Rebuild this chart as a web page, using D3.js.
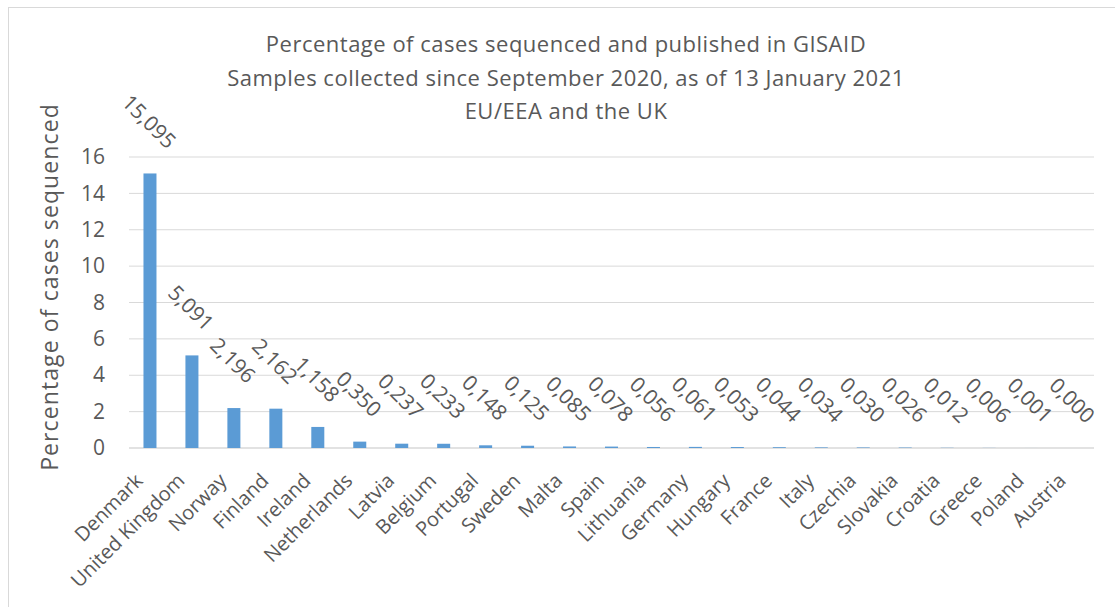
<!DOCTYPE html>
<html>
<head>
<meta charset="utf-8">
<script src="https://cdn.jsdelivr.net/npm/d3@7"></script>
<style>
  body { margin: 0; background: #fff; }
  svg text { font-family: "Open Sans", sans-serif; fill: #595959; }
</style>
</head>
<body>
<svg id="chart" width="1115" height="607"></svg>
<script>
const countries = ["Denmark", "United Kingdom", "Norway", "Finland", "Ireland", "Netherlands", "Latvia",
  "Belgium", "Portugal", "Sweden", "Malta", "Spain", "Lithuania", "Germany", "Hungary", "France",
  "Italy", "Czechia", "Slovakia", "Croatia", "Greece", "Poland", "Austria"];
const percentSequenced = [15.095, 5.091, 2.196, 2.162, 1.158, 0.350, 0.237, 0.233, 0.148, 0.125, 0.085,
  0.078, 0.056, 0.061, 0.053, 0.044, 0.034, 0.030, 0.026, 0.012, 0.006, 0.001, 0.000];
const yTicks = [0, 2, 4, 6, 8, 10, 12, 14, 16];
const titleLines = ["Percentage of cases sequenced and published in GISAID",
  "Samples collected since September 2020, as of 13 January 2021",
  "EU/EEA and the UK"];

const svg = d3.select("#chart");
const margin = {top: 157, right: 21, bottom: 159, left: 129};
const width = +svg.attr("width") - margin.left - margin.right;
const height = +svg.attr("height") - margin.top - margin.bottom;

// outer chart border
svg.append("rect")
  .attr("x", 8.5).attr("y", 7.5)
  .attr("width", 1120).attr("height", 620)
  .attr("fill", "none").attr("stroke", "#d9d9d9");

const g = svg.append("g").attr("transform", `translate(${margin.left},${margin.top})`);

const x = d3.scaleBand().domain(countries).range([0, width]).paddingInner(0.69).paddingOuter(0.345);
const y = d3.scaleLinear().domain([0, 16]).range([height, 0]);

// gridlines
g.append("g")
  .selectAll("line")
  .data(yTicks)
  .join("line")
  .attr("x1", 0).attr("x2", width)
  .attr("y1", d => y(d)).attr("y2", d => y(d))
  .attr("stroke", "#d9d9d9")
  .attr("stroke-width", d => d === 0 ? 1.5 : 1);

// y axis labels
const yAxis = g.append("g").call(d3.axisLeft(y).tickValues(yTicks).tickSize(0).tickPadding(24));
yAxis.select(".domain").remove();
yAxis.selectAll("text").attr("font-size", 21).style("font-family", "Open Sans, sans-serif").attr("fill", "#595959");

// bars
g.selectAll(".bar")
  .data(countries)
  .join("rect")
  .attr("class", "bar")
  .attr("x", d => x(d))
  .attr("width", x.bandwidth())
  .attr("y", (d, i) => y(percentSequenced[i]))
  .attr("height", (d, i) => height - y(percentSequenced[i]))
  .attr("fill", "#5b9bd5");

// value labels, rotated 45 degrees, sitting above each bar
const fmt = v => v.toFixed(3).replace(".", ",");
g.selectAll(".vlabel")
  .data(countries)
  .join("text")
  .attr("class", "vlabel")
  .attr("font-size", 21)
  .attr("text-anchor", "middle")
  .attr("dy", "0.35em")
  .text((d, i) => fmt(percentSequenced[i]))
  .attr("transform", function(d, i) {
    const len = this.getComputedTextLength();
    const half = (len + 16) * 0.7071 / 2;
    const cx = x(d) + x.bandwidth() / 2 - 1;
    const cy = y(percentSequenced[i]) - 23 - half;
    return `translate(${cx},${cy}) rotate(45)`;
  });

// x axis labels
const xAxis = g.append("g").attr("transform", `translate(0,${height})`)
  .call(d3.axisBottom(x).tickSize(0).tickPadding(0));
xAxis.select(".domain").remove();
xAxis.selectAll("text")
  .attr("font-size", 20)
  .style("font-family", "Open Sans, sans-serif")
  .attr("fill", "#595959")
  .style("text-anchor", "end")
  .attr("dy", 0)
  .attr("transform", "translate(-6,34) rotate(-45)");

// y axis title
svg.append("text")
  .attr("transform", "translate(58,287) rotate(-90)")
  .attr("text-anchor", "middle")
  .attr("font-size", 23)
  .attr("letter-spacing", 1.1)
  .text("Percentage of cases sequenced");

// title
svg.append("g").selectAll("text")
  .data(titleLines)
  .join("text")
  .attr("x", 566)
  .attr("y", (d, i) => 52 + i * 33.5)
  .attr("text-anchor", "middle")
  .attr("font-size", 22)
  .attr("letter-spacing", 0.5)
  .text(d => d);
</script>
</body>
</html>
